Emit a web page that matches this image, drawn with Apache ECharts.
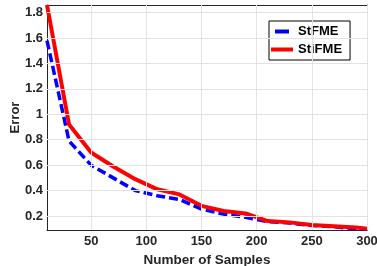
<!DOCTYPE html>
<html>
<head>
<meta charset="utf-8">
<script src="https://cdn.jsdelivr.net/npm/echarts@6/dist/echarts.min.js"></script>
<style>
  html, body { margin: 0; padding: 0; background: #fff; }
  #chart { width: 377px; height: 266px; }
</style>
</head>
<body>
<div id="chart"></div>
<script>
// 样本数量
var samples = [10, 30, 50, 70, 90, 110, 130, 150, 170, 190, 210, 230, 250, 270, 290, 300];
// 误差
var stfme = [1.58, 0.79, 0.60, 0.50, 0.40, 0.36, 0.33, 0.255, 0.215, 0.19, 0.155, 0.145, 0.125, 0.115, 0.10, 0.095];
var stifme = [1.86, 0.92, 0.70, 0.59, 0.49, 0.41, 0.37, 0.28, 0.24, 0.22, 0.16, 0.15, 0.13, 0.12, 0.11, 0.10];
var xTicks = [50, 100, 150, 200, 250, 300];
var yTicks = [0.2, 0.4, 0.6, 0.8, 1, 1.2, 1.4, 1.6, 1.8];

var axisColor = '#262626';
var gridColor = '#e3e3e3';
var font = 'Liberation Sans, Arial, sans-serif';

function pairs(ys) {
  return samples.map(function (x, i) { return [x, ys[i]]; });
}

// 网格线跟随刻度
var gridLines = xTicks.map(function (v) { return { xAxis: v }; })
  .concat(yTicks.map(function (v) { return { yAxis: v }; }));

var chart = echarts.init(document.getElementById('chart'));
var option = {
  animation: false,
  grid: { left: 47, right: 10, top: 5, bottom: 36, outerBoundsMode: 'none', containLabel: false },
  xAxis: [
    {
      type: 'value', min: 10, max: 300,
      name: 'Number of Samples', nameLocation: 'middle', nameGap: 21,
      nameTextStyle: { color: '#262626', fontSize: 13.5, fontWeight: 'bold', fontFamily: font },
      axisLine: { lineStyle: { color: axisColor, width: 1 } },
      axisTick: { inside: true, length: 3, customValues: xTicks, lineStyle: { color: axisColor } },
      axisLabel: {
        customValues: xTicks, color: '#262626', fontSize: 13, fontWeight: 'bold',
        fontFamily: font, margin: 5
      },
      splitLine: { show: false }
    },
    {
      type: 'value', min: 10, max: 300, position: 'top',
      axisLine: { show: true, lineStyle: { color: axisColor, width: 1 } },
      axisTick: { inside: true, length: 3, customValues: xTicks, lineStyle: { color: axisColor } },
      axisLabel: { show: false },
      splitLine: { show: false }
    }
  ],
  yAxis: [
    {
      type: 'value', min: 0.09, max: 1.86,
      name: 'Error', nameLocation: 'middle', nameGap: 25, nameRotate: 90,
      nameMoveOverlap: false,
      nameTextStyle: { color: '#262626', fontSize: 13, fontWeight: 'bold', fontFamily: font },
      axisLine: { show: true, lineStyle: { color: axisColor, width: 1 } },
      axisTick: { show: true, inside: true, length: 3, customValues: yTicks, lineStyle: { color: axisColor } },
      axisLabel: {
        customValues: yTicks, color: '#262626', fontSize: 13, fontWeight: 'bold',
        fontFamily: font, margin: 4
      },
      splitLine: { show: false }
    },
    {
      type: 'value', min: 0.09, max: 1.86, position: 'right',
      axisLine: { show: true, lineStyle: { color: axisColor, width: 1 } },
      axisTick: { show: true, inside: true, length: 3, customValues: yTicks, lineStyle: { color: axisColor } },
      axisLabel: { show: false },
      splitLine: { show: false }
    }
  ],
  legend: {
    orient: 'vertical',
    left: 269, top: 21,
    padding: [4, 8, 4, 2],
    itemGap: 5,
    itemWidth: 22, itemHeight: 4,
    backgroundColor: '#fff',
    borderColor: '#000', borderWidth: 1, borderRadius: 0,
    textStyle: { color: '#000', fontSize: 13, fontWeight: 'bold', fontFamily: font, width: 58 },
    data: [
      { name: 'StFME', icon: 'path://M2,0H16V4H2Z' },
      { name: 'StiFME', icon: 'path://M0,0H22V4H0Z' }
    ]
  },
  series: [
    {
      name: 'grid', type: 'line', data: [], z: 1, silent: true,
      markLine: {
        silent: true, symbol: 'none', animation: false,
        label: { show: false },
        lineStyle: { color: gridColor, width: 1, type: 'solid' },
        data: gridLines
      }
    },
    {
      name: 'StFME', type: 'line', data: pairs(stfme),
      symbol: 'none', z: 3,
      lineStyle: { color: '#0000ff', width: 3.5, type: [9, 4] },
      itemStyle: { color: '#0000ff' }
    },
    {
      name: 'StiFME', type: 'line', data: pairs(stifme),
      symbol: 'none', z: 4,
      lineStyle: { color: '#ff0000', width: 4 },
      itemStyle: { color: '#ff0000' }
    }
  ]
};
chart.setOption(option);
</script>
</body>
</html>
